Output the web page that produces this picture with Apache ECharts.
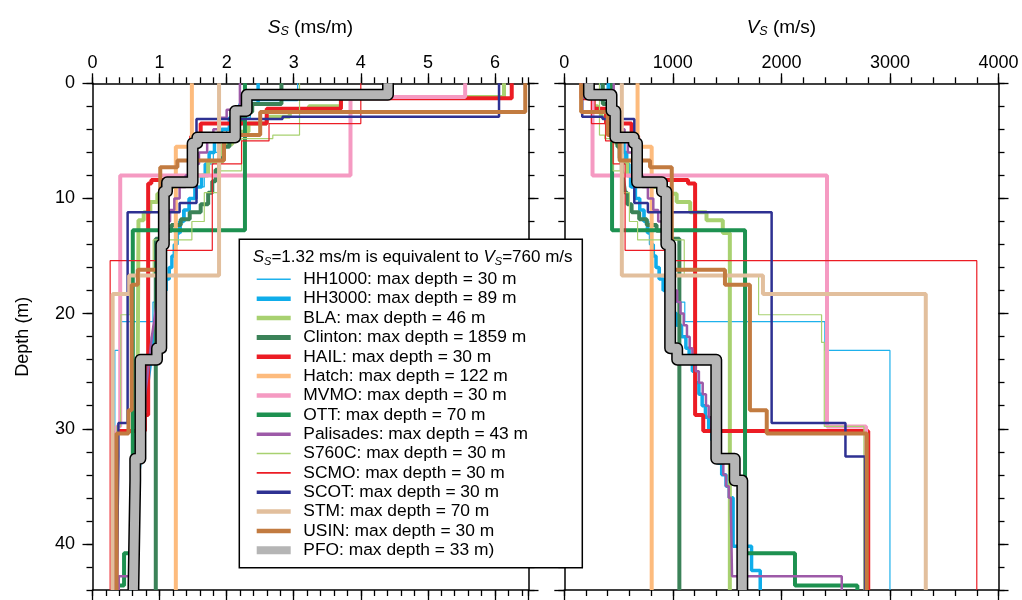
<!DOCTYPE html>
<html><head><meta charset="utf-8">
<script src="https://cdn.jsdelivr.net/npm/echarts@6/dist/echarts.min.js"></script>
<style>html,body{margin:0;padding:0;background:#fff}#c{width:1022px;height:600px}</style>
</head><body><div id="c"></div><script>
// ---- data: layer bottom depths (m) and shear-wave velocity Vs (m/s) per profile ----
const HH1000_bottom = [1.5, 3, 4, 5, 6, 7, 8, 9, 10, 11, 12, 13, 14, 15, 16, 17, 18, 19, 20.7, 23.2, 44];
const HH1000_vs     = [327, 425, 460, 500, 530, 555, 580, 600, 640, 685, 725, 755, 785, 810, 840, 865, 900, 950, 1110, 2400, 3000];
const HH3000_bottom = [1.8, 3, 4, 5, 6, 7, 8, 9, 10, 11, 12, 13, 14, 15, 16, 17, 18, 19, 20, 21, 22, 23, 24, 25, 26, 27, 28, 29, 30, 31, 32, 33, 34, 35, 36, 40.2, 42.3, 44];
const HH3000_vs     = [405, 455, 490, 520, 550, 575, 595, 615, 655, 695, 735, 770, 795, 820, 845, 875, 915, 955, 995, 1035, 1080, 1120, 1150, 1180, 1210, 1240, 1270, 1300, 1330, 1360, 1390, 1415, 1450, 1490, 1520, 1555, 1725, 1805];
const BLA_bottom = [1.2, 2.0, 2.4, 2.9, 3.5, 4.2, 5.3, 6.8, 8.0, 8.4, 9.0, 9.6, 10.3, 11.2, 11.9, 13.0, 44];
const BLA_vs     = [163, 270, 310, 340, 385, 430, 480, 515, 580, 690, 800, 900, 1035, 1160, 1310, 1460, 1525];
const Clinton_bottom = [1.8, 2.5, 3.5, 4.5, 5.5, 6.5, 7.5, 8.5, 9.5, 10.5, 11.2, 11.8, 12.3, 12.8, 13.5, 44];
const Clinton_vs     = [355, 420, 450, 470, 490, 510, 530, 545, 560, 580, 620, 690, 760, 850, 960, 1060];
const HAIL_bottom = [1.3, 2.2, 3.5, 4.6, 8.4, 8.7, 28.8, 30.2, 44];
const HAIL_vs     = [160, 270, 385, 620, 680, 1140, 1205, 1280, 2800];
const Hatch_bottom = [5.5, 44];
const Hatch_vs     = [675, 805];
const MVMO_bottom = [1.2, 8.0, 29.8, 44];
const MVMO_vs     = [180, 260, 2420, 2780];
const OTT_bottom = [12.76, 40.8, 43.6, 44];
const OTT_vs     = [440, 1665, 2125, 2700];
const Palisades_bottom = [2.3, 3, 4, 5, 6, 7, 8, 9, 10, 11, 12, 13, 14, 15, 16, 17, 18, 19, 20, 21, 22, 23, 24, 25, 26, 27, 28, 29, 30, 31, 32, 33, 34, 35, 36, 37, 42.8, 44];
const Palisades_vs     = [455, 500, 530, 555, 585, 630, 670, 720, 770, 820, 865, 915, 950, 970, 985, 1000, 1015, 1040, 1070, 1100, 1130, 1155, 1180, 1210, 1240, 1275, 1305, 1330, 1355, 1385, 1410, 1440, 1465, 1490, 1515, 1535, 1545, 2556];
const S760C_bottom = [4.5, 4.8, 7.6, 9.5, 12.0, 13.6, 16.7, 20.1, 22.5, 29.8, 44];
const S760C_vs     = [324, 372, 450, 525, 600, 675, 1105, 1790, 2370, 2395, 2760];
const SCMO_bottom = [3.5, 5.0, 7.0, 14.5, 15.4, 44];
const SCMO_vs     = [250, 380, 450, 560, 950, 3800];
const SCOT_bottom = [2.9, 3.1, 10.4, 11.2, 29.5, 32.4, 44];
const SCOT_vs     = [165, 353, 645, 770, 1910, 2590, 2770];
const STM_bottom = [16.7, 18.3, 44];
const STM_vs     = [530, 1830, 3330];
const USIN_bottom = [2.5, 4.5, 6.7, 7.3, 16.2, 17.5, 28.4, 30.4, 44];
const USIN_vs     = [155, 400, 510, 790, 990, 1480, 1710, 1865, 2786];
const PFO_bottom = [1.0, 2.4, 4.7, 5.2, 8.6, 9.4, 14.0, 23.0, 24.0, 32.6, 34.5, 44];
const PFO_vs     = [227, 435, 470, 640, 670, 900, 940, 975, 1040, 1400, 1570, 1640];

const legendNames = ['HH1000', 'HH3000', 'BLA', 'Clinton', 'HAIL', 'Hatch', 'MVMO', 'OTT', 'Palisades', 'S760C', 'SCMO', 'SCOT', 'STM', 'USIN', 'PFO'];
const maxDepths = [30, 89, 46, 1859, 30, 122, 30, 70, 43, 30, 30, 30, 70, 30, 33];
const depthTicks = [0, 10, 20, 30, 40];

const profiles = {
  HH1000: [HH1000_bottom, HH1000_vs], HH3000: [HH3000_bottom, HH3000_vs], BLA: [BLA_bottom, BLA_vs],
  Clinton: [Clinton_bottom, Clinton_vs], HAIL: [HAIL_bottom, HAIL_vs], Hatch: [Hatch_bottom, Hatch_vs],
  MVMO: [MVMO_bottom, MVMO_vs], OTT: [OTT_bottom, OTT_vs], Palisades: [Palisades_bottom, Palisades_vs],
  S760C: [S760C_bottom, S760C_vs], SCMO: [SCMO_bottom, SCMO_vs], SCOT: [SCOT_bottom, SCOT_vs],
  STM: [STM_bottom, STM_vs], USIN: [USIN_bottom, USIN_vs], PFO: [PFO_bottom, PFO_vs]
};

// ---- styles ----
const styles = {
  HH1000:   {color: '#1eb1ec', width: 1.2, lw: 1.6},
  HH3000:   {color: '#0fadea', width: 3.5, lw: 4.5},
  BLA:      {color: '#a8d170', width: 4,   lw: 4.5},
  Clinton:  {color: '#3b8258', width: 4,   lw: 5},
  HAIL:     {color: '#ec1c24', width: 4,   lw: 4.5},
  Hatch:    {color: '#fdbb7d', width: 4,   lw: 4.5},
  MVMO:     {color: '#f59ac2', width: 4,   lw: 4.5},
  OTT:      {color: '#1d9150', width: 4,   lw: 4.5},
  Palisades:{color: '#9d5aa8', width: 2.5, lw: 3.5},
  S760C:    {color: '#a8d170', width: 1.2, lw: 1.6},
  SCMO:     {color: '#ec1c24', width: 1.2, lw: 1.6},
  SCOT:     {color: '#2e3192', width: 2.5, lw: 3.5},
  STM:      {color: '#e2bf9d', width: 4,   lw: 4.5},
  USIN:     {color: '#c27b40', width: 4,   lw: 4.5},
  PFO:      {color: '#b5b5b5', width: 9,   lw: 8}
};
const FONT = 'Liberation Sans, Arial, Helvetica, sans-serif';

function steps(bottoms, vs, toX) {
  const pts = []; let top = 0;
  for (let i = 0; i < vs.length; i++) {
    const x = toX(vs[i]);
    pts.push([x, top]); pts.push([x, bottoms[i]]);
    top = bottoms[i];
  }
  return pts;
}
const toSs = v => 1000 / v;
const toVs = v => v;

const series = [];
[[0, toSs], [4, toVs]].forEach(([ax, fn]) => {
  legendNames.forEach(name => {
    const [b, v] = profiles[name]; const st = styles[name];
    const data = steps(b, v, fn);
    if (name === 'PFO') {
      series.push({type: 'line', name: 'PFO outline', xAxisIndex: ax, yAxisIndex: ax, data, symbol: 'none', silent: true,
        lineStyle: {color: '#000', width: 12, join: 'round', cap: 'butt'}, z: 8, animation: false});
      series.push({type: 'line', name, xAxisIndex: ax, yAxisIndex: ax, data, symbol: 'none', silent: true,
        color: st.color, lineStyle: {color: st.color, width: st.width, join: 'round', cap: 'butt'}, z: 9, animation: false});
    } else {
      series.push({type: 'line', name, xAxisIndex: ax, yAxisIndex: ax, data, symbol: 'none', silent: true,
        color: st.color, lineStyle: {color: st.color, width: st.width}, z: 3, animation: false});
    }
  });
});

const axLine = {show: true, onZero: false, lineStyle: {color: '#000', width: 1.5}};
function xAx(grid, pos, max, interval, major, opts) {
  return Object.assign({
    type: 'value', gridIndex: grid, position: pos, min: 0, max, interval,
    axisLine: major ? axLine : {show: false, onZero: false},
    axisTick: {show: true, inside: false, length: major ? 10 : 6, lineStyle: {color: '#000', width: 1.3}},
    axisLabel: {show: false}, splitLine: {show: false}
  }, opts || {});
}
function yAx(grid, pos, interval, major, opts) {
  return Object.assign({
    type: 'value', gridIndex: grid, position: pos, min: 0, max: 44, interval, inverse: true,
    axisLine: major ? axLine : {show: false, onZero: false},
    axisTick: {show: true, inside: false, length: major ? 10 : 6, lineStyle: {color: '#000', width: 1.3}},
    axisLabel: {show: false}, splitLine: {show: false}
  }, opts || {});
}
const richName = {
  i: {fontStyle: 'italic', fontSize: 19, lineHeight: 22, fontFamily: FONT, color: '#000'},
  s: {fontStyle: 'italic', fontSize: 12.5, lineHeight: 12, verticalAlign: 'bottom', fontFamily: FONT, color: '#000'},
  n: {fontSize: 19, lineHeight: 22, fontFamily: FONT, color: '#000'}
};
const topLabel = {show: true, margin: 11, fontSize: 18, color: '#000', fontFamily: FONT, showMaxLabel: false, formatter: v => String(v)};

const option = {
  animation: false,
  backgroundColor: '#fff',
  textStyle: {fontFamily: FONT},
  grid: [
    {left: 92.5, right: 493.5, top: 83.3, bottom: 10},
    {left: 564.3, right: 23.5, top: 83.3, bottom: 10}
  ],
  xAxis: [
    xAx(0, 'top', 6.5, 1, true, {axisLabel: topLabel, name: '{i|S}{s|S}{n| (ms/m)}', nameLocation: 'middle', nameGap: 45,
      nameTextStyle: {rich: richName, fontSize: 19, lineHeight: 22}}),
    xAx(0, 'top', 6.5, 0.2, false),
    xAx(0, 'bottom', 6.5, 1, true),
    xAx(0, 'bottom', 6.5, 0.2, false),
    xAx(1, 'top', 4000, 1000, true, {axisLabel: Object.assign({}, topLabel, {showMaxLabel: true}), name: '{i|V}{s|S}{n| (m/s)}', nameLocation: 'middle', nameGap: 45,
      nameTextStyle: {rich: richName, fontSize: 19, lineHeight: 22}}),
    xAx(1, 'top', 4000, 200, false),
    xAx(1, 'bottom', 4000, 1000, true),
    xAx(1, 'bottom', 4000, 200, false)
  ],
  yAxis: [
    yAx(0, 'left', 10, true, {axisLabel: {show: true, margin: 17.5, fontSize: 18, color: '#000', fontFamily: FONT, showMaxLabel: false,
      formatter: v => depthTicks.indexOf(v) >= 0 ? String(v) : ''},
      name: 'Depth (m)', nameLocation: 'middle', nameGap: 60, nameTextStyle: {fontSize: 18, color: '#000', fontFamily: FONT}}),
    yAx(0, 'left', 2, false),
    yAx(0, 'right', 10, true),
    yAx(0, 'right', 2, false),
    yAx(1, 'left', 10, true),
    yAx(1, 'left', 2, false),
    yAx(1, 'right', 10, true),
    yAx(1, 'right', 2, false)
  ],
  legend: {
    show: true, orient: 'vertical', left: 252.7, top: 270.3, padding: 0,
    itemWidth: 34, itemHeight: 18, itemGap: 1.36, selectedMode: false, z: 60,
    itemStyle: {opacity: 0, borderWidth: 0},
    textStyle: {fontSize: 17.4, lineHeight: 18, color: '#000', fontFamily: FONT, padding: [0, 0, 0, 7.6]},
    formatter: name => name + ': max depth = ' + maxDepths[legendNames.indexOf(name)] + (name === 'PFO' ? ' m)' : ' m'),
    data: legendNames.map(n => ({name: n, lineStyle: {width: styles[n].lw, opacity: 1, cap: 'butt'}}))
  },
  graphic: [
    {type: 'rect', z: 50, silent: true, shape: {x: 239.3, y: 239.3, width: 343, height: 328.4},
      style: {fill: '#fff', stroke: '#000', lineWidth: 1.5}},
    {type: 'text', z: 61, silent: true, x: 252.7, y: 257.3,
      style: {text: '{i|S}{s|S}{n|=1.32 ms/m is equivalent to }{i|V}{s|S}{n|=760 m/s}', verticalAlign: 'middle', align: 'left',
        font: '17px ' + FONT, fill: '#000',
        rich: {
          i: {fontStyle: 'italic', fontSize: 17, lineHeight: 21, fontFamily: FONT, fill: '#000'},
          s: {fontStyle: 'italic', fontSize: 11, lineHeight: 11, verticalAlign: 'bottom', fontFamily: FONT, fill: '#000'},
          n: {fontSize: 17, lineHeight: 21, fontFamily: FONT, fill: '#000'}
        }}}
  ],
  series
};
const chart = echarts.init(document.getElementById('c'), null, {renderer: 'canvas'});
chart.setOption(option);
</script></body></html>
